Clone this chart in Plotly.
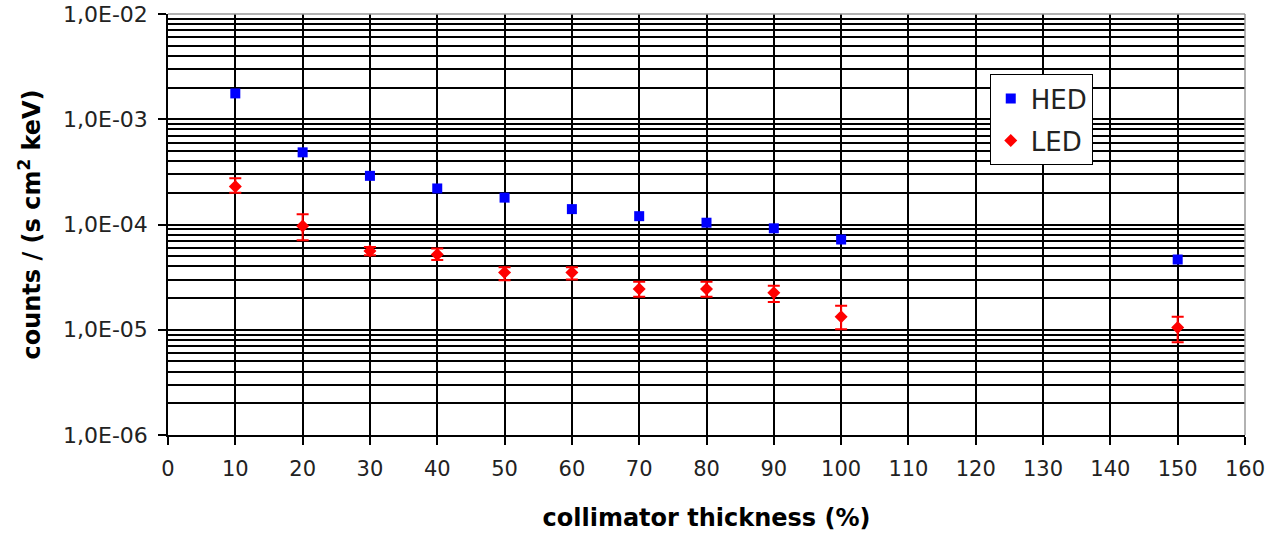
import plotly.graph_objects as go

thickness = [10, 20, 30, 40, 50, 60, 70, 80, 90, 100, 150]
hed = [1.76e-3, 4.85e-4, 2.9e-4, 2.2e-4, 1.8e-4, 1.4e-4, 1.2e-4, 1.04e-4, 9.2e-5, 7.2e-5, 4.65e-5]
led = [2.3e-4, 9.7e-5, 5.6e-5, 5.2e-5, 3.5e-5, 3.5e-5, 2.44e-5, 2.44e-5, 2.25e-5, 1.33e-5, 1.05e-5]
led_hi = [2.75e-4, 1.25e-4, 6.1e-5, 5.9e-5, 3.92e-5, 3.92e-5, 2.86e-5, 2.86e-5, 2.62e-5, 1.69e-5, 1.33e-5]
led_lo = [2.0e-4, 7.1e-5, 5.1e-5, 4.6e-5, 2.95e-5, 3.01e-5, 2.06e-5, 2.06e-5, 1.84e-5, 1.01e-5, 7.6e-6]

y_major = [1e-6, 1e-5, 1e-4, 1e-3, 1e-2]
y_labels = ["1,0E-06", "1,0E-05", "1,0E-04", "1,0E-03", "1,0E-02"]
y_minor = [m * d for d in [1e-6, 1e-5, 1e-4, 1e-3] for m in range(2, 10)]

err_plus = [h - v for h, v in zip(led_hi, led)]
err_minus = [v - l for v, l in zip(led, led_lo)]

FONT = "DejaVu Sans, Liberation Sans, Arial, sans-serif"

fig = go.Figure()
fig.add_trace(go.Scatter(
    x=thickness, y=hed, mode="markers", name="HED", legendgroup="a",
    marker=dict(symbol="square", size=10, color="#0000FF"),
))
fig.add_trace(go.Scatter(
    x=thickness, y=led, mode="markers", name="LED", legendgroup="b",
    marker=dict(symbol="diamond", size=10, color="#FF0000"),
    error_y=dict(type="data", symmetric=False, array=err_plus, arrayminus=err_minus,
                 color="#FF0000", thickness=2, width=6),
))

grid_w = 1.6
fig.update_layout(
    width=1286, height=535,
    margin=dict(l=168, r=41, t=14, b=100),
    paper_bgcolor="white", plot_bgcolor="white",
    font=dict(family=FONT, color="#222"),
    showlegend=True,
    legend=dict(
        x=0.763, y=0.857, xanchor="left", yanchor="top",
        bgcolor="white", bordercolor="#000", borderwidth=1,
        font=dict(size=26, color="#222", family=FONT),
        tracegroupgap=5,
    ),
    xaxis=dict(
        range=[0, 160], dtick=10, tick0=0,
        showgrid=True, gridcolor="#000", gridwidth=grid_w,
        showline=True, linecolor="#000", linewidth=1.5,
        ticks="outside", ticklen=8, tickcolor="#000", tickwidth=1.5,
        tickfont=dict(size=21, color="#222", family=FONT),
        ticklabelstandoff=6,
        zeroline=False, automargin=False,
        title=dict(text="<b>collimator thickness (%)</b>",
                   font=dict(size=24, color="#000", family=FONT), standoff=29),
    ),
    yaxis=dict(
        type="log", range=[-6, -2],
        tickvals=y_major, ticktext=y_labels,
        showgrid=True, gridcolor="#000", gridwidth=grid_w,
        showline=True, linecolor="#000", linewidth=1.5,
        ticks="outside", ticklen=8, tickcolor="#000", tickwidth=1.5,
        tickfont=dict(size=22, color="#222", family=FONT),
        ticklabelstandoff=6,
        zeroline=False, automargin=False,
        minor=dict(tickvals=y_minor, showgrid=True, gridcolor="#000", gridwidth=grid_w, ticks=""),
        title=dict(text="<b>counts / (s cm<sup>2</sup> keV)</b>",
                   font=dict(size=24, color="#000", family=FONT), standoff=16),
    ),
)

fig.add_shape(type="line", xref="paper", yref="paper", x0=0, x1=1, y0=1, y1=1,
              line=dict(color="#999", width=1.5))
fig.add_shape(type="line", xref="paper", yref="paper", x0=1, x1=1, y0=0, y1=1,
              line=dict(color="#999", width=1.5))

fig.write_html("out.html", config={"displayModeBar": False},
               post_script="document.body.style.margin='0';")
